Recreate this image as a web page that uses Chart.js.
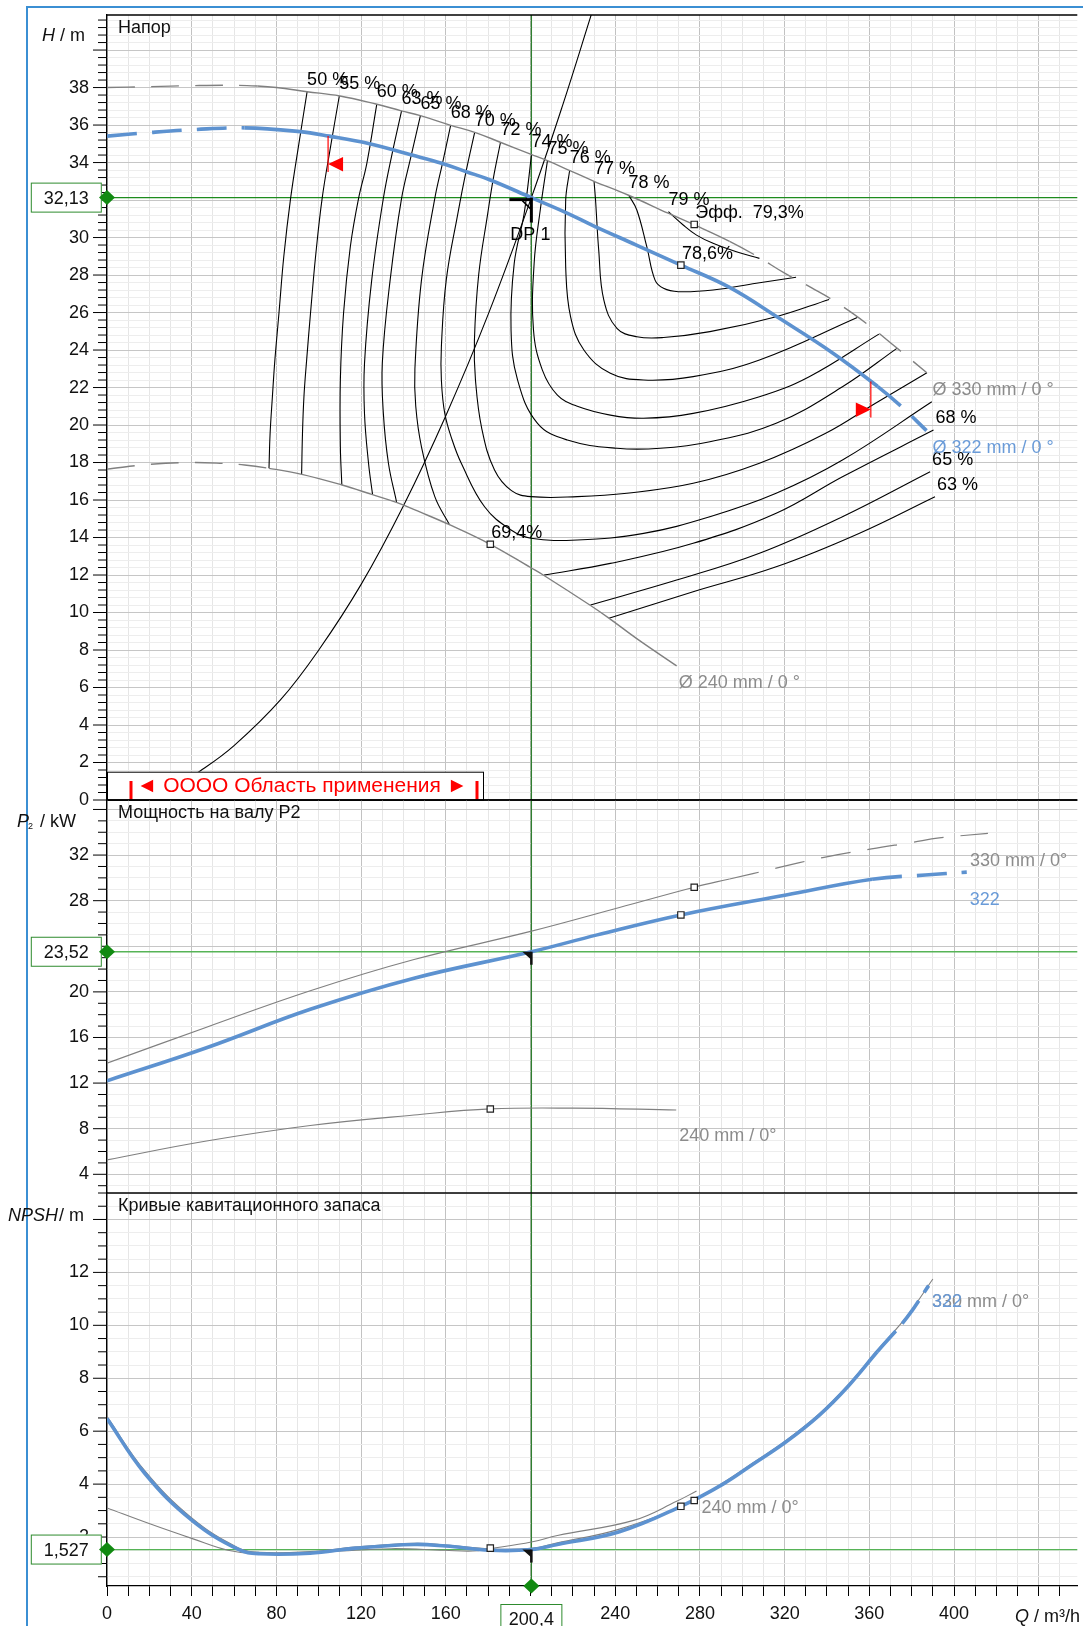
<!DOCTYPE html>
<html lang="ru">
<head>
<meta charset="utf-8">
<title>Характеристика насоса</title>
<script src="https://cdn.jsdelivr.net/npm/chart.js@4.4.1/dist/chart.umd.min.js"></script>
<style>
  body { margin: 0; background: #fff; }
  #page { position: relative; width: 1083px; height: 1626px; overflow: hidden; background: #fff; }
  #frame { position: absolute; left: 26px; top: 6px; width: 1200px; height: 1800px;
           border-left: 2px solid #3b8fd3; border-top: 2px solid #3b8fd3; }
  canvas { position: absolute; left: 0; }
</style>
</head>
<body>
<div id="page">
  <div id="frame"></div>
  <canvas id="headChart" width="1083" height="820" style="top:0px"></canvas>
  <canvas id="powerChart" width="1083" height="433" style="top:780px"></canvas>
  <canvas id="npshChart" width="1083" height="453" style="top:1173px"></canvas>
</div>
<script>
const FONT = '"Liberation Sans", Arial, Helvetica, sans-serif';
const FS = 18; // base text size
Chart.defaults.font.family = FONT;

// duty point
const dpQ = 200.4, dpH = 32.13, dpP = 23.52, dpN = 1.527;
const dpText = { q: '200,4', h: '32,13', p: '23,52', n: '1,527' };

// operating range, Q m³/h
const rangeQ = [104.4, 360.7];
const rangeText = '◄ OOOO Область применения ►';

// axis ranges
const qMax = 458.2;
const hAxis = [0, 41.87];
const pAxis = [2.36, 36.83];
const nAxis = [0.15, 15.0];

// ---- head (Q m³/h, H m) ----
const h330 = [[0,38.0],[20,38.05],[40,38.1],[60,38.12],[71,38.08],[80,38.0],[94.5,37.78],[110,37.55],[127,37.12],[139,36.76],[148,36.5],[162,36.0],[174,35.6],[186,35.07],[200,34.45],[208,34.1],[218,33.6],[230,33.0],[246,32.27],[265,31.3],[277,30.7],[294,29.8],[307,29.0],[320,28.1],[333,27.3],[345,26.5],[360,25.3],[372,24.2],[387,22.8]];
const h322 = [[0,35.41],[20,35.6],[40,35.75],[65,35.85],[91,35.65],[105,35.41],[123.5,35.02],[144,34.4],[158,33.96],[170,33.5],[181,33.07],[200.4,32.13],[217,31.32],[230,30.61],[250,29.6],[271,28.53],[294,27.34],[317.5,25.69],[343,23.82],[364,22.05],[375,21.0],[387,19.7]];
const h240 = [[0,17.65],[20,17.9],[40,18.0],[55,17.95],[65,17.87],[76.5,17.69],[92,17.37],[111,16.8],[125,16.3],[137,15.86],[148,15.35],[162,14.67],[181,13.64],[200,12.4],[206,12.0],[228,10.4],[237,9.7],[250,8.62],[269,7.15]];
const sysQ = [36, 44, 60, 82, 100, 120, 140, 160, 180, 200.4, 215, 229];
const sysH = [1.05, 1.55, 2.9, 5.35, 8.0, 11.5, 15.7, 20.5, 25.9, 32.13, 37.0, 42.0];

// efficiency iso-lines (left branch from the top)
const eta50 = [[94.5,37.78],[90.6,35.0],[86.7,32.09],[83.5,29.0],[81.2,25.96],[79.3,23.5],[78.1,21.51],[77.0,19.5],[76.5,17.69]];
const eta55 = [[109.7,37.55],[105.5,34.8],[101.6,32.09],[98.5,29.0],[96.1,25.96],[94.3,23.5],[93.0,21.51],[92.3,19.5],[91.9,17.37]];
const eta60 = [[127.4,37.12],[122.7,33.96],[118.8,32.09],[114.9,29.51],[111.7,25.96],[110.2,22.4],[110.2,18.84],[110.9,16.8]];
const eta63 = [[139.1,36.76],[134.5,34.4],[130.5,32.09],[125,27.73],[121.6,23.29],[121.6,20.6],[123.5,17.96],[125.4,16.3]];
const eta65 = [[148,36.5],[143.5,34.3],[139.1,32.09],[133.7,27.73],[130,23.29],[130.5,20.62],[132.9,17.96],[136.8,15.86]];
const eta68 = [[162.3,36.0],[158.5,34.0],[154.8,32.09],[148.5,27.73],[145.4,23.0],[145.8,21.0],[148.5,18.84],[154.8,16.18],[161.8,14.67]];
const eta70 = [[173.6,35.6],[169.5,33.5],[165.7,31.29],[160.2,27.73],[157.9,24.18],[157.9,22.4],[159.5,20.62],[163,19.2],[167.3,17.96],[178.3,15.64],[190.8,14.4],[200.2,13.96],[222.1,13.87],[253.4,14.22],[284.7,15.11],[316,16.36],[347.3,18.13],[389.5,21.24]];
const eta72 = [[185.8,35.07],[182.5,33.2],[179.8,31.29],[175.5,28.0],[173.5,24.5],[174,22.4],[177,19.8],[183,17.6],[191,16.5],[200.2,16.18],[222.1,16.18],[245.5,16.36],[276.8,16.89],[308.1,17.96],[339.4,19.56],[362.9,21.16],[387.2,22.79]];
const eta74 = [[200.5,34.45],[197,31.29],[192.3,28.62],[190.8,25.07],[193.9,22.4],[203.3,20.09],[217.4,19.2],[240.8,18.76],[261.2,18.76],[284.7,19.11],[316,20.09],[347.3,22.04],[373,24.09]];
const eta75 = [[208,34.1],[204.8,31.64],[201.7,28.62],[201.4,25.07],[205.6,22.93],[212.7,21.6],[222.1,21.0],[237.7,20.53],[253.4,20.36],[276.8,20.62],[308.1,21.51],[331.6,22.58],[364.5,24.85]];
const eta76 = [[218.5,33.6],[216.6,32.0],[216.6,28.44],[218.9,25.78],[225.2,24.0],[237.7,22.76],[253.4,22.4],[276.8,22.58],[308.1,23.47],[354.3,25.74]];
const eta77 = [[230,33.0],[230.7,32.0],[232.2,29.33],[234.6,26.67],[240.8,25.16],[250.2,24.71],[262.8,24.67],[284.7,24.98],[316,25.78],[341,26.7]];
const eta78 = [[246.3,32.27],[250.2,31.47],[254.9,29.51],[258.8,27.73],[262.8,27.29],[269.8,27.11],[286.2,27.2],[306.6,27.56],[325.4,27.88]];
const eta79 = [[265.1,31.38],[272.1,30.67],[278.4,30.13],[286.2,29.69],[297.2,29.24],[308.1,28.89]];
const etaLevels = ['50 %','55 %','60 %','63 %','65 %','68 %','70 %','72 %','74 %','75 %','76 %','77 %','78 %','79 %'];
const etaLines = [eta50, eta55, eta60, eta63, eta65, eta68, eta70, eta72, eta74, eta75, eta76, eta77, eta78, eta79];
// right branches that start on the smallest impeller
const eta68r = [[206.4,12.0],[237.7,12.62],[276.8,13.69],[316,15.29],[347.3,17.24],[390.3,19.73]];
const eta65r = [[228.3,10.4],[269,11.73],[308.1,13.16],[347.3,15.11],[388.7,17.51]];
const eta63r = [[237,9.69],[276.8,11.11],[316,12.44],[355.1,14.22],[391,16.18]];
const etaRightLevels = ['68 %','65 %','63 %'];
const etaRightLines = [eta68r, eta65r, eta63r];

// ---- shaft power P2 (kW) ----
const p330 = [[0,13.74],[47,16.9],[96,20.1],[145,22.84],[200,25.3],[242,27.4],[277.3,29.18],[294,29.9],[316,30.85],[338,31.78],[361,32.54],[380,33.1],[393,33.5],[416,33.9]];
const p322 = [[0,12.2],[47,15.1],[96,18.47],[145,21.2],[200.4,23.52],[231.5,25.0],[271,26.75],[320.7,28.5],[361.3,29.88],[386.4,30.25],[406,30.5]];
const p240 = [[0,5.27],[47,6.92],[96,8.28],[145,9.2],[181,9.73],[220,9.8],[268.8,9.64]];

// ---- NPSH (m) ----
const n322 = [[0,6.48],[17.9,4.4],[40,2.64],[61.8,1.54],[72,1.37],[95.9,1.39],[117.4,1.58],[145,1.72],[160,1.66],[181,1.5],[200.4,1.527],[212.7,1.72],[242,2.2],[271,3.16],[290.9,4.0],[305,4.75],[320.7,5.6],[336.3,6.6],[350,7.7],[363.7,9.0],[377.8,10.3],[388,11.5]];
const n330 = [[0,6.55],[17.9,4.5],[40,2.72],[61.8,1.6],[72,1.42],[95.9,1.45],[117.4,1.62],[145,1.76],[160,1.7],[181,1.55],[200.4,1.57],[212.7,1.78],[242,2.3],[277.3,3.38],[290.9,4.05],[305,4.8],[320.7,5.65],[336.3,6.65],[350,7.75],[363.7,9.05],[377.8,10.35],[390,11.75]];
const n240 = [[0,3.1],[20.2,2.5],[40.3,1.94],[57.1,1.5],[70.4,1.37],[105,1.45],[134.2,1.56],[159.3,1.5],[172.8,1.47],[181,1.56],[200.4,1.81],[212.7,2.06],[248.7,2.63],[269,3.35],[278.4,3.74]];

// best-efficiency markers: 330, 322, 240 mm
const markQ = [277.3, 271, 181];
const markH = [30.7, 28.53, 13.64];
const markP = [29.18, 26.75, 9.73];
const markN = [3.38, 3.16, 1.58];
const markLabelH = ['Эфф.  79,3%', '78,6%', '69,4%'];

const BLUE = '#5d92d0', GRAY = '#808080', LGRAY = '#8c8c8c';

const isMajor = (v, m) => Math.abs(v / m - Math.round(v / m)) < 1e-6;
const pairs = (xs, ys) => xs.map((v, i) => [v, ys[i]]);

function interp(pts, q) {
  for (let i = 1; i < pts.length; i++) {
    if (q <= pts[i][0]) {
      const [x0, y0] = pts[i - 1], [x1, y1] = pts[i];
      return y0 + (y1 - y0) * (q - x0) / (x1 - x0);
    }
  }
  return pts[pts.length - 1][1];
}

function text(ctx, s, x, y, o = {}) {
  ctx.save();
  ctx.font = (o.style || '') + ' ' + (o.size || FS) + 'px ' + FONT;
  ctx.fillStyle = o.color || '#111';
  ctx.textAlign = o.align || 'left';
  ctx.textBaseline = o.base || 'alphabetic';
  ctx.fillText(s, x, y);
  const w = ctx.measureText(s).width;
  ctx.restore();
  return w;
}

function seg(ctx, x0, y0, x1, y1, color, w) {
  ctx.save();
  ctx.strokeStyle = color; ctx.lineWidth = w;
  ctx.beginPath(); ctx.moveTo(x0, y0); ctx.lineTo(x1, y1); ctx.stroke();
  ctx.restore();
}

function diamond(ctx, cx, cy) {
  ctx.save();
  ctx.fillStyle = '#118a11';
  ctx.beginPath();
  ctx.moveTo(cx, cy - 7.5); ctx.lineTo(cx + 8, cy); ctx.lineTo(cx, cy + 7.5); ctx.lineTo(cx - 8, cy);
  ctx.closePath(); ctx.fill();
  ctx.restore();
}

function valueBox(ctx, s, cx, cy, w, h) {
  ctx.save();
  ctx.fillStyle = '#fff'; ctx.fillRect(cx - w / 2, cy - h / 2, w, h);
  ctx.strokeStyle = '#2e8b2e'; ctx.lineWidth = 1;
  ctx.strokeRect(cx - w / 2 + 0.5, cy - h / 2 + 0.5, w - 1, h - 1);
  ctx.restore();
  text(ctx, s, cx, cy + 1, { align: 'center', base: 'middle', color: '#111' });
}

function dpLines(chart, val, hColor) {
  const { ctx, chartArea: a, scales: { x, y } } = chart;
  const px = x.getPixelForValue(dpQ), py = y.getPixelForValue(val);
  seg(ctx, a.left, py, a.right, py, hColor, 1.3);
  seg(ctx, px, a.top, px, a.bottom, '#2f7f2f', 1.3);
}

// frame, y tick marks, panel title, DP value box on the y axis
function panelFrame(chart, o) {
  const { ctx, chartArea: a, scales: { y } } = chart;
  seg(ctx, a.left, a.top, a.right, a.top, '#000', 1.3);
  y.ticks.forEach(t => {
    const py = y.getPixelForValue(t.value);
    const len = isMajor(t.value, o.major) ? 14 : 9;
    seg(ctx, a.left - len, py, a.left, py, '#000', 1);
  });
  text(ctx, o.title, a.left + 11, a.top + 18);
  const py = y.getPixelForValue(o.dpVal);
  valueBox(ctx, o.dpLabel, 66.3, py, 71, 30);
  diamond(ctx, a.left, py);
}

function smallDp(ctx, px, py) {
  ctx.save();
  ctx.fillStyle = '#111';
  ctx.beginPath(); ctx.moveTo(px - 9, py); ctx.lineTo(px, py); ctx.lineTo(px, py + 8); ctx.closePath(); ctx.fill();
  ctx.restore();
  seg(ctx, px, py, px, py + 13, '#111', 2.5);
}

function curve(pts, color, width, dashFn) {
  const ds = { data: pts, showLine: true, borderColor: color, borderWidth: width,
               pointRadius: 0, tension: 0.4, fill: false };
  if (dashFn) ds.segment = { borderDash: c => dashFn(c.p0.parsed.x, c.p1.parsed.x) };
  return ds;
}

function markers(ys) {
  return { data: pairs(markQ, ys), showLine: false, pointStyle: 'rect', pointRadius: 4.5,
           pointBackgroundColor: '#fff', pointBorderColor: '#222', pointBorderWidth: 1.2 };
}

function makeChart(id, o) {
  return new Chart(document.getElementById(id), {
    type: 'scatter',
    data: { datasets: o.datasets },
    options: {
      responsive: false, animation: false, events: [],
      layout: { padding: { top: o.padTop, right: 0, bottom: 0, left: 0 } },
      plugins: { legend: { display: false }, tooltip: { enabled: false } },
      scales: {
        x: {
          type: 'linear', min: 0, max: qMax,
          afterFit: s => { s.height = o.xHeight; s.paddingLeft = 0; s.paddingRight = 0; },
          border: { display: o.showX, color: '#000', width: 1.3 },
          grid: {
            color: c => (c.tick && isMajor(c.tick.value, 40)) ? '#c2c2c2' : '#e6e6e6',
            drawTicks: o.showX, tickLength: 10, tickColor: '#000', tickWidth: 1
          },
          ticks: {
            display: o.showX, stepSize: 10, autoSkip: false, maxRotation: 0, includeBounds: false,
            padding: 7, color: '#111', font: { size: FS, family: FONT },
            callback: v => (isMajor(v, 40) && v <= 400) ? String(v) : ''
          }
        },
        y: {
          type: 'linear', min: o.yRange[0], max: o.yRange[1],
          afterFit: s => { s.width = 107; s.paddingTop = 0; s.paddingBottom = 0; },
          border: { color: '#000', width: 1.3 },
          grid: {
            color: c => (c.tick && isMajor(c.tick.value, o.major)) ? '#c6c6c6' : '#ededed',
            drawTicks: false
          },
          ticks: {
            stepSize: o.minor, autoSkip: false, includeBounds: false, padding: 18,
            color: '#111', font: { size: FS, family: FONT },
            callback: v => (isMajor(v, o.major) && v <= o.labelMax) ? String(v) : ''
          }
        }
      }
    },
    plugins: [o.plugin]
  });
}

// ---------- head panel ----------
const headPlugin = {
  id: 'headDecor',
  beforeDatasetsDraw(chart) { dpLines(chart, dpH, '#1e8c1e'); },
  afterDatasetsDraw(chart) {
    const { ctx, chartArea: a, scales: { x, y } } = chart;
    const X = v => x.getPixelForValue(v), Y = v => y.getPixelForValue(v);

    etaLines.forEach((pts, i) => text(ctx, etaLevels[i], X(pts[0][0]), Y(pts[0][1]) - 7, { color: '#000' }));
    etaRightLines.forEach((pts, i) => {
      const p = pts[pts.length - 1];
      text(ctx, etaRightLevels[i], X(p[0]) + 2, Y(p[1]) - 7, { color: '#000' });
    });
    markQ.forEach((q, i) => text(ctx, markLabelH[i], X(q) + 1, Y(markH[i]) - 6, { color: '#000' }));

    const e330 = h330[h330.length - 1], e322 = h322[h322.length - 1], e240 = h240[h240.length - 1];
    text(ctx, 'Ø 330 mm / 0 °', X(e330[0]) + 6, Y(e330[1]) + 22.5, { color: LGRAY });
    text(ctx, 'Ø 322 mm / 0 °', X(e322[0]) + 6, Y(e322[1]) + 22.5, { color: '#6a9bd8' });
    text(ctx, 'Ø 240 mm / 0 °', X(e240[0]) + 2, Y(e240[1]) + 22, { color: LGRAY });

    // duty point symbol
    const px = X(dpQ), py = Y(dpH);
    seg(ctx, px - 22, py + 2, px + 1, py + 2, '#000', 3);
    seg(ctx, px, py, px, py + 25, '#000', 3);
    seg(ctx, px - 9, py + 3, px - 1, py + 11, '#000', 1.5);
    text(ctx, 'DP 1', px - 21, py + 42, { color: '#000' });

    // operating range flags on the 322 curve
    const flag = (q, dir) => {
      const fx = X(q), fy = Y(interp(h322, q));
      seg(ctx, fx, fy, fx, fy + 36, '#f00', 1.2);
      ctx.save(); ctx.fillStyle = '#f00'; ctx.beginPath();
      ctx.moveTo(fx, fy + 28); ctx.lineTo(fx - dir * 15, fy + 21); ctx.lineTo(fx - dir * 15, fy + 35.5);
      ctx.closePath(); ctx.fill(); ctx.restore();
    };
    flag(rangeQ[0], -1);
    flag(rangeQ[1], 1);

    // range legend box
    const by0 = a.bottom - 28.3;
    ctx.save();
    ctx.fillStyle = '#fff'; ctx.fillRect(a.left, by0, 376, 28.3);
    ctx.strokeStyle = '#000'; ctx.lineWidth = 1; ctx.strokeRect(a.left + 0.5, by0 + 0.5, 376, 28);
    ctx.font = '20px ' + FONT;
    const w = ctx.measureText(rangeText).width;
    ctx.restore();
    seg(ctx, a.left + 24, a.bottom - 19, a.left + 24, a.bottom, '#f00', 3);
    seg(ctx, a.left + 370, a.bottom - 19, a.left + 370, a.bottom, '#f00', 3);
    text(ctx, rangeText, a.left + 195, a.bottom - 8.3, { size: Math.min(21, 20 * 331 / w), color: '#f00', align: 'center' });

    seg(ctx, a.left, a.bottom, a.right, a.bottom, '#000', 1.3);
    panelFrame(chart, { major: 2, title: 'Напор', dpVal: dpH, dpLabel: dpText.h });
    const wH = text(ctx, 'H', 42, a.top + 26, { style: 'italic', color: '#111' });
    text(ctx, ' / m', 42 + wH, a.top + 26, { color: '#111' });
  }
};

makeChart('headChart', {
  padTop: 15, xHeight: 20, showX: false, yRange: hAxis, major: 2, minor: 0.4, labelMax: 38,
  plugin: headPlugin,
  datasets: [
    markers(markH),
    curve(h322, BLUE, 3.6, (a, b) => (b <= 65.01 || a >= 363.99) ? [30, 15] : undefined),
    curve(h330, GRAY, 1.4, (a, b) => (b <= 71.01 || a >= 293.99) ? [28, 16] : undefined),
    curve(h240, GRAY, 1.4, (a, b) => (b <= 76.51) ? [28, 16] : undefined),
    ...etaLines.map(p => curve(p, '#000', 1.1)),
    ...etaRightLines.map(p => curve(p, '#000', 1.1)),
    curve(pairs(sysQ, sysH), '#000', 1.1)
  ]
});

// ---------- power panel ----------
const powerPlugin = {
  id: 'powerDecor',
  beforeDatasetsDraw(chart) { dpLines(chart, dpP, '#56b356'); },
  afterDatasetsDraw(chart) {
    const { ctx, chartArea: a, scales: { x, y } } = chart;
    const X = v => x.getPixelForValue(v), Y = v => y.getPixelForValue(v);
    const e330 = p330[p330.length - 1], e322 = p322[p322.length - 1], e240 = p240[p240.length - 1];
    text(ctx, '330 mm / 0°', X(e330[0]) - 18, Y(e330[1]) + 32.6, { color: LGRAY });
    text(ctx, '322', X(e322[0]) + 3, Y(e322[1]) + 33, { color: '#6a9bd8' });
    text(ctx, '240 mm / 0°', X(e240[0]) + 3, Y(e240[1]) + 31, { color: LGRAY });
    smallDp(ctx, X(dpQ), Y(dpP));
    panelFrame(chart, { major: 4, title: 'Мощность на валу P2', dpVal: dpP, dpLabel: dpText.p });
    const ty = a.top + 27;
    text(ctx, 'P', 17, ty, { style: 'italic', color: '#111' });
    text(ctx, '2', 28, ty + 2, { size: 9, color: '#111' });
    text(ctx, '/ kW', 40, ty, { color: '#111' });
  }
};

makeChart('powerChart', {
  padTop: 20, xHeight: 20, showX: false, yRange: pAxis, major: 4, minor: 1, labelMax: 32,
  plugin: powerPlugin,
  datasets: [
    markers(markP),
    curve(p322, BLUE, 3.6, (a) => (a >= 361.29) ? [30, 15] : undefined),
    curve(p330, GRAY, 1.2, (a) => (a >= 293.99) ? [30, 17] : undefined),
    curve(p240, GRAY, 1.2)
  ]
});

// ---------- NPSH panel ----------
const npshPlugin = {
  id: 'npshDecor',
  beforeDatasetsDraw(chart) { dpLines(chart, dpN, '#56b356'); },
  afterDatasetsDraw(chart) {
    const { ctx, chartArea: a, scales: { x, y } } = chart;
    const X = v => x.getPixelForValue(v), Y = v => y.getPixelForValue(v);
    const e330 = n330[n330.length - 1], e240 = n240[n240.length - 1];
    // the 330 and 322 labels sit on top of each other, as in the source sheet
    text(ctx, '330 mm / 0°', X(e330[0]) - 1, Y(e330[1]) + 28, { color: LGRAY });
    text(ctx, '322', X(e330[0]) - 1, Y(e330[1]) + 28, { color: '#6a9bd8' });
    text(ctx, '240 mm / 0°', X(e240[0]) + 5, Y(e240[1]) + 22, { color: LGRAY });
    smallDp(ctx, X(dpQ), Y(dpN));
    panelFrame(chart, { major: 2, title: 'Кривые кавитационного запаса', dpVal: dpN, dpLabel: dpText.n });
    const ty = a.top + 28;
    const wN = text(ctx, 'NPSH', 8, ty, { style: 'italic', color: '#111' });
    text(ctx, '/ m', 8 + wN + 1, ty, { color: '#111' });

    // duty flow on the Q axis
    const px = X(dpQ);
    valueBox(ctx, dpText.q, px, a.bottom + 33, 62, 30);
    diamond(ctx, px, a.bottom);

    const qy = a.bottom + 35.5;
    const wQ = text(ctx, 'Q', 1015, qy, { style: 'italic', color: '#111' });
    text(ctx, ' / m³/h', 1015 + wQ, qy, { color: '#111' });
  }
};

makeChart('npshChart', {
  padTop: 20, xHeight: 40, showX: true, yRange: nAxis, major: 2, minor: 0.5, labelMax: 12,
  plugin: npshPlugin,
  datasets: [
    markers(markN),
    curve(n322, BLUE, 3.6, (a) => (a >= 363.69) ? [28, 10] : undefined),
    curve(n330, GRAY, 1.1),
    curve(n240, GRAY, 1.1)
  ]
});
</script>
</body>
</html>
